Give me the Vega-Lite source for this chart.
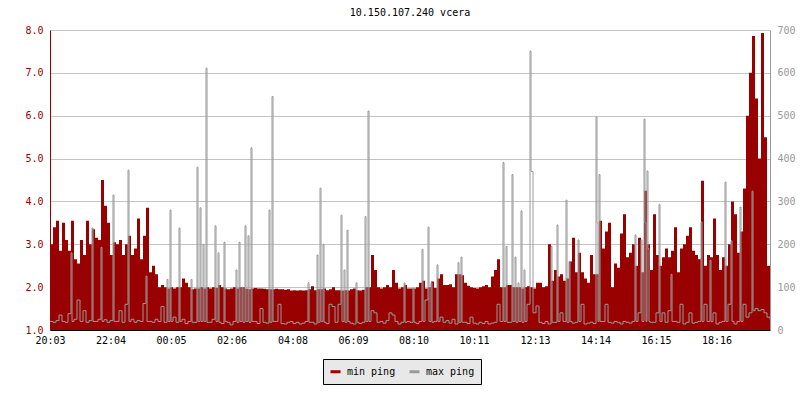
{
  "$schema": "https://vega.github.io/schema/vega-lite/v6.json",
  "width": 720,
  "height": 300,
  "autosize": {"type": "none"},
  "padding": {"left": 50, "top": 30, "right": 30, "bottom": 70},
  "background": "white",
  "title": {"text": "10.150.107.240 vcera", "font": "DejaVu Sans Mono", "fontSize": 10, "fontWeight": "normal", "color": "black", "anchor": "middle", "frame": "group", "offset": 7},
  "config": {"view": {"stroke": null}, "font": "DejaVu Sans Mono"},
  "datasets": {
    "minping": [
      {"t":0,"mn":3.0},{"t":6,"mn":3.4},{"t":12,"mn":3.55},{"t":18,"mn":2.85},{"t":24,"mn":3.5},
      {"t":30,"mn":3.1},{"t":36,"mn":2.85},{"t":42,"mn":3.55},{"t":48,"mn":2.65},{"t":54,"mn":2.55},
      {"t":60,"mn":3.1},{"t":66,"mn":2.75},{"t":72,"mn":3.55},{"t":78,"mn":3.0},{"t":84,"mn":3.35},
      {"t":90,"mn":3.15},{"t":96,"mn":3.1},{"t":102,"mn":4.5},{"t":108,"mn":3.9},{"t":114,"mn":3.5},
      {"t":120,"mn":2.75},{"t":126,"mn":3.05},{"t":132,"mn":3.0},{"t":138,"mn":3.1},{"t":144,"mn":2.75},
      {"t":150,"mn":3.0},{"t":156,"mn":3.2},{"t":162,"mn":2.75},{"t":168,"mn":2.9},{"t":174,"mn":3.6},
      {"t":180,"mn":2.65},{"t":186,"mn":3.2},{"t":192,"mn":3.85},{"t":198,"mn":2.35},{"t":204,"mn":2.5},
      {"t":210,"mn":2.3},{"t":216,"mn":2.0},{"t":222,"mn":2.05},{"t":228,"mn":2.0},{"t":234,"mn":1.97},
      {"t":240,"mn":2.0},{"t":246,"mn":1.97},{"t":252,"mn":2.0},{"t":258,"mn":2.0},{"t":264,"mn":2.2},
      {"t":270,"mn":2.1},{"t":276,"mn":2.0},{"t":282,"mn":1.95},{"t":288,"mn":1.97},{"t":294,"mn":1.97},
      {"t":300,"mn":2.0},{"t":306,"mn":1.97},{"t":312,"mn":2.0},{"t":318,"mn":1.97},{"t":324,"mn":2.0},
      {"t":330,"mn":1.98},{"t":336,"mn":2.05},{"t":342,"mn":2.0},{"t":348,"mn":1.97},{"t":354,"mn":1.95},
      {"t":360,"mn":1.97},{"t":366,"mn":2.0},{"t":372,"mn":1.97},{"t":378,"mn":2.0},{"t":384,"mn":2.0},
      {"t":390,"mn":1.96},{"t":396,"mn":1.95},{"t":402,"mn":1.97},{"t":408,"mn":1.98},{"t":414,"mn":1.97},
      {"t":420,"mn":1.97},{"t":426,"mn":1.96},{"t":432,"mn":1.95},{"t":438,"mn":1.95},{"t":444,"mn":1.95},
      {"t":450,"mn":1.96},{"t":456,"mn":1.95},{"t":462,"mn":1.95},{"t":468,"mn":1.94},{"t":474,"mn":1.95},
      {"t":480,"mn":1.92},{"t":486,"mn":1.93},{"t":492,"mn":1.92},{"t":498,"mn":1.93},{"t":504,"mn":1.92},
      {"t":510,"mn":1.93},{"t":516,"mn":1.95},{"t":522,"mn":2.02},{"t":528,"mn":1.93},{"t":534,"mn":1.95},
      {"t":540,"mn":1.95},{"t":546,"mn":1.97},{"t":552,"mn":1.93},{"t":558,"mn":1.95},{"t":564,"mn":2.0},
      {"t":570,"mn":1.93},{"t":576,"mn":1.93},{"t":582,"mn":1.92},{"t":588,"mn":1.93},{"t":594,"mn":1.92},
      {"t":600,"mn":1.95},{"t":606,"mn":1.97},{"t":612,"mn":1.93},{"t":618,"mn":1.92},{"t":624,"mn":1.94},
      {"t":630,"mn":2.0},{"t":636,"mn":2.0},{"t":642,"mn":2.75},{"t":648,"mn":2.4},{"t":654,"mn":2.0},
      {"t":660,"mn":1.97},{"t":666,"mn":2.0},{"t":672,"mn":2.05},{"t":678,"mn":2.0},{"t":684,"mn":2.4},
      {"t":690,"mn":2.1},{"t":696,"mn":1.97},{"t":702,"mn":2.0},{"t":708,"mn":2.05},{"t":714,"mn":1.97},
      {"t":720,"mn":1.97},{"t":726,"mn":1.97},{"t":732,"mn":2.0},{"t":738,"mn":2.1},{"t":744,"mn":2.15},
      {"t":750,"mn":1.97},{"t":756,"mn":2.0},{"t":762,"mn":2.13},{"t":768,"mn":1.98},{"t":774,"mn":2.2},
      {"t":780,"mn":2.3},{"t":786,"mn":2.05},{"t":792,"mn":2.05},{"t":798,"mn":2.07},{"t":804,"mn":2.0},
      {"t":810,"mn":2.3},{"t":816,"mn":2.3},{"t":822,"mn":2.28},{"t":828,"mn":2.1},{"t":834,"mn":2.03},
      {"t":840,"mn":2.0},{"t":846,"mn":1.98},{"t":852,"mn":1.97},{"t":858,"mn":2.0},{"t":864,"mn":2.02},
      {"t":870,"mn":2.05},{"t":876,"mn":2.0},{"t":882,"mn":2.25},{"t":888,"mn":2.4},{"t":894,"mn":2.65},
      {"t":900,"mn":2.0},{"t":906,"mn":2.0},{"t":912,"mn":2.05},{"t":918,"mn":2.05},{"t":924,"mn":2.0},
      {"t":930,"mn":2.0},{"t":936,"mn":2.0},{"t":942,"mn":1.97},{"t":948,"mn":2.0},{"t":954,"mn":2.02},
      {"t":960,"mn":2.0},{"t":966,"mn":1.97},{"t":972,"mn":2.1},{"t":978,"mn":2.1},{"t":984,"mn":2.0},
      {"t":990,"mn":2.02},{"t":996,"mn":3.0},{"t":1002,"mn":2.15},{"t":1008,"mn":2.4},{"t":1014,"mn":2.25},
      {"t":1020,"mn":2.3},{"t":1026,"mn":2.15},{"t":1032,"mn":2.2},{"t":1038,"mn":2.6},{"t":1044,"mn":3.15},
      {"t":1050,"mn":2.35},{"t":1056,"mn":2.8},{"t":1062,"mn":2.35},{"t":1068,"mn":2.2},{"t":1074,"mn":2.1},
      {"t":1080,"mn":2.75},{"t":1086,"mn":2.3},{"t":1092,"mn":2.3},{"t":1098,"mn":3.55},{"t":1104,"mn":2.9},
      {"t":1110,"mn":3.3},{"t":1116,"mn":3.5},{"t":1122,"mn":2.0},{"t":1128,"mn":2.55},{"t":1134,"mn":2.45},
      {"t":1140,"mn":3.25},{"t":1146,"mn":3.7},{"t":1152,"mn":2.7},{"t":1158,"mn":2.8},{"t":1164,"mn":3.0},
      {"t":1170,"mn":2.5},{"t":1176,"mn":3.15},{"t":1182,"mn":2.35},{"t":1188,"mn":4.25},{"t":1194,"mn":3.0},
      {"t":1200,"mn":2.4},{"t":1206,"mn":3.7},{"t":1212,"mn":2.75},{"t":1218,"mn":2.5},{"t":1224,"mn":2.7},
      {"t":1230,"mn":2.9},{"t":1236,"mn":2.7},{"t":1242,"mn":2.85},{"t":1248,"mn":3.4},{"t":1254,"mn":2.35},
      {"t":1260,"mn":2.9},{"t":1266,"mn":3.0},{"t":1272,"mn":3.2},{"t":1278,"mn":3.4},{"t":1284,"mn":2.85},
      {"t":1290,"mn":2.75},{"t":1296,"mn":2.65},{"t":1302,"mn":4.48},{"t":1308,"mn":2.5},{"t":1314,"mn":2.75},
      {"t":1320,"mn":2.7},{"t":1326,"mn":3.6},{"t":1332,"mn":2.75},{"t":1338,"mn":2.4},{"t":1344,"mn":2.7},
      {"t":1350,"mn":2.5},{"t":1356,"mn":3.0},{"t":1362,"mn":4.0},{"t":1368,"mn":3.7},{"t":1374,"mn":2.8},
      {"t":1380,"mn":3.3},{"t":1386,"mn":4.3},{"t":1392,"mn":6.0},{"t":1398,"mn":7.0},{"t":1404,"mn":7.86},
      {"t":1410,"mn":6.4},{"t":1416,"mn":5.0},{"t":1422,"mn":7.93},{"t":1428,"mn":5.5},{"t":1434,"mn":2.5},
      {"t":1440,"mn":2.9}
    ],
    "maxping": [
      {"t":0,"mx":20},{"t":6,"mx":18},{"t":12,"mx":22},{"t":18,"mx":35},{"t":24,"mx":20},{"t":30,"mx":18},{"t":36,"mx":38},
      {"t":42,"mx":180},{"t":44,"mx":20},{"t":48,"mx":25},{"t":54,"mx":70},{"t":60,"mx":20},{"t":66,"mx":45},{"t":72,"mx":18},
      {"t":78,"mx":22},{"t":84,"mx":238},{"t":86,"mx":20},{"t":90,"mx":20},{"t":96,"mx":25},{"t":102,"mx":193},{"t":104,"mx":20},
      {"t":108,"mx":24},{"t":114,"mx":18},{"t":120,"mx":22},{"t":126,"mx":315},{"t":128,"mx":20},{"t":132,"mx":20},{"t":138,"mx":45},
      {"t":144,"mx":18},{"t":150,"mx":60},{"t":156,"mx":373},{"t":158,"mx":20},{"t":162,"mx":25},{"t":168,"mx":18},{"t":174,"mx":22},
      {"t":180,"mx":20},{"t":186,"mx":62},{"t":192,"mx":126},{"t":194,"mx":20},{"t":198,"mx":20},{"t":204,"mx":18},{"t":210,"mx":25},
      {"t":216,"mx":20},{"t":222,"mx":55},{"t":228,"mx":18},{"t":234,"mx":118},{"t":236,"mx":20},
      {"t":240,"mx":280},{"t":242,"mx":20},{"t":246,"mx":30},{"t":252,"mx":18},{"t":258,"mx":238},{"t":260,"mx":20},{"t":264,"mx":25},
      {"t":270,"mx":15},{"t":276,"mx":20},{"t":282,"mx":118},{"t":284,"mx":18},{"t":288,"mx":18},{"t":294,"mx":380},{"t":296,"mx":20},
      {"t":300,"mx":285},{"t":302,"mx":20},{"t":306,"mx":200},{"t":308,"mx":20},{"t":312,"mx":611},{"t":314,"mx":18},{"t":318,"mx":18},
      {"t":324,"mx":25},{"t":330,"mx":243},{"t":332,"mx":20},{"t":336,"mx":180},{"t":338,"mx":18},{"t":342,"mx":15},{"t":348,"mx":205},
      {"t":350,"mx":20},{"t":354,"mx":18},{"t":360,"mx":12},{"t":366,"mx":20},{"t":372,"mx":140},{"t":374,"mx":18},{"t":378,"mx":205},
      {"t":380,"mx":20},{"t":384,"mx":100},{"t":386,"mx":18},{"t":390,"mx":243},{"t":392,"mx":20},{"t":396,"mx":220},{"t":398,"mx":18},
      {"t":402,"mx":425},{"t":404,"mx":20},{"t":408,"mx":20},{"t":414,"mx":15},{"t":420,"mx":50},{"t":426,"mx":18},{"t":432,"mx":16},
      {"t":438,"mx":280},{"t":440,"mx":18},{"t":444,"mx":545},{"t":446,"mx":20},{"t":450,"mx":20},{"t":456,"mx":60},{"t":462,"mx":15},
      {"t":468,"mx":14},{"t":474,"mx":18},
      {"t":480,"mx":20},{"t":486,"mx":15},{"t":492,"mx":18},{"t":498,"mx":14},{"t":504,"mx":16},{"t":510,"mx":20},{"t":516,"mx":110},
      {"t":518,"mx":18},{"t":522,"mx":18},{"t":528,"mx":14},{"t":534,"mx":175},{"t":536,"mx":18},{"t":540,"mx":331},{"t":542,"mx":20},
      {"t":546,"mx":200},{"t":548,"mx":18},{"t":552,"mx":15},{"t":558,"mx":60},{"t":564,"mx":55},{"t":570,"mx":18},{"t":576,"mx":60},
      {"t":582,"mx":268},{"t":584,"mx":20},{"t":588,"mx":140},{"t":590,"mx":18},{"t":594,"mx":233},{"t":596,"mx":20},{"t":600,"mx":16},
      {"t":606,"mx":14},{"t":612,"mx":110},{"t":614,"mx":18},{"t":618,"mx":15},{"t":624,"mx":18},{"t":630,"mx":265},{"t":632,"mx":20},
      {"t":636,"mx":511},{"t":638,"mx":20},{"t":642,"mx":45},{"t":648,"mx":40},{"t":654,"mx":18},{"t":660,"mx":20},{"t":666,"mx":16},
      {"t":672,"mx":22},{"t":678,"mx":40},{"t":684,"mx":35},{"t":690,"mx":20},{"t":696,"mx":14},{"t":702,"mx":18},{"t":708,"mx":110},
      {"t":710,"mx":18},{"t":714,"mx":20},
      {"t":720,"mx":18},{"t":726,"mx":98},{"t":728,"mx":18},{"t":732,"mx":15},{"t":738,"mx":20},{"t":744,"mx":188},{"t":746,"mx":20},
      {"t":750,"mx":70},{"t":756,"mx":240},{"t":758,"mx":20},{"t":762,"mx":110},{"t":764,"mx":18},{"t":768,"mx":20},{"t":774,"mx":152},
      {"t":776,"mx":20},{"t":780,"mx":30},{"t":786,"mx":18},{"t":792,"mx":22},{"t":798,"mx":16},{"t":804,"mx":25},{"t":810,"mx":14},
      {"t":816,"mx":157},{"t":818,"mx":18},{"t":822,"mx":170},{"t":824,"mx":18},{"t":828,"mx":18},{"t":834,"mx":15},{"t":840,"mx":30},
      {"t":846,"mx":16},{"t":852,"mx":14},{"t":858,"mx":18},{"t":864,"mx":15},{"t":870,"mx":20},{"t":876,"mx":14},{"t":882,"mx":16},
      {"t":888,"mx":18},{"t":894,"mx":60},{"t":900,"mx":20},{"t":906,"mx":391},{"t":908,"mx":20},{"t":912,"mx":195},{"t":914,"mx":18},
      {"t":918,"mx":18},{"t":924,"mx":363},{"t":926,"mx":20},{"t":930,"mx":170},{"t":932,"mx":18},{"t":936,"mx":110},{"t":938,"mx":20},
      {"t":942,"mx":278},{"t":944,"mx":18},{"t":948,"mx":140},{"t":950,"mx":20},{"t":954,"mx":60},
      {"t":960,"mx":651},{"t":962,"mx":370},{"t":964,"mx":370},{"t":966,"mx":40},{"t":972,"mx":56},{"t":978,"mx":18},{"t":984,"mx":15},
      {"t":990,"mx":20},{"t":996,"mx":14},{"t":1002,"mx":195},{"t":1004,"mx":18},{"t":1008,"mx":18},{"t":1014,"mx":245},{"t":1016,"mx":20},
      {"t":1020,"mx":40},{"t":1026,"mx":20},{"t":1032,"mx":303},{"t":1034,"mx":18},{"t":1038,"mx":160},{"t":1040,"mx":20},{"t":1044,"mx":16},
      {"t":1050,"mx":18},{"t":1056,"mx":210},{"t":1058,"mx":20},{"t":1062,"mx":60},{"t":1068,"mx":14},{"t":1074,"mx":16},{"t":1080,"mx":18},
      {"t":1086,"mx":15},{"t":1092,"mx":497},{"t":1094,"mx":250},{"t":1096,"mx":20},{"t":1098,"mx":363},{"t":1100,"mx":20},{"t":1104,"mx":20},
      {"t":1110,"mx":60},{"t":1116,"mx":18},{"t":1122,"mx":16},{"t":1128,"mx":20},{"t":1134,"mx":18},{"t":1140,"mx":14},{"t":1146,"mx":20},
      {"t":1152,"mx":18},{"t":1158,"mx":16},{"t":1164,"mx":20},{"t":1170,"mx":222},{"t":1172,"mx":20},{"t":1176,"mx":40},{"t":1182,"mx":210},
      {"t":1184,"mx":20},{"t":1188,"mx":492},{"t":1190,"mx":250},{"t":1192,"mx":20},{"t":1194,"mx":371},{"t":1196,"mx":190},{"t":1198,"mx":20},
      {"t":1200,"mx":18},{"t":1206,"mx":18},{"t":1212,"mx":40},{"t":1218,"mx":293},{"t":1220,"mx":20},{"t":1224,"mx":40},{"t":1230,"mx":18},
      {"t":1236,"mx":45},{"t":1242,"mx":130},{"t":1244,"mx":20},{"t":1248,"mx":20},{"t":1254,"mx":18},{"t":1260,"mx":60},{"t":1266,"mx":14},
      {"t":1272,"mx":18},{"t":1278,"mx":40},{"t":1284,"mx":16},{"t":1290,"mx":18},{"t":1296,"mx":20},{"t":1302,"mx":252},{"t":1304,"mx":20},
      {"t":1308,"mx":60},{"t":1314,"mx":20},{"t":1320,"mx":163},{"t":1322,"mx":20},{"t":1326,"mx":40},{"t":1332,"mx":14},{"t":1338,"mx":18},
      {"t":1344,"mx":20},{"t":1350,"mx":345},{"t":1352,"mx":20},{"t":1356,"mx":60},{"t":1362,"mx":208},{"t":1364,"mx":20},{"t":1368,"mx":14},
      {"t":1374,"mx":20},{"t":1380,"mx":287},{"t":1382,"mx":20},{"t":1386,"mx":60},{"t":1392,"mx":30},{"t":1398,"mx":40},{"t":1404,"mx":324},
      {"t":1406,"mx":45},{"t":1410,"mx":50},{"t":1416,"mx":45},{"t":1422,"mx":48},{"t":1428,"mx":40},{"t":1434,"mx":30},{"t":1440,"mx":25}
    ]
  },
  "encoding": {
    "x": {
      "field": "t", "type": "quantitative",
      "scale": {"domain": [0, 1440], "nice": false, "zero": false},
      "axis": {
        "title": null, "grid": false,
        "values": [0, 121, 242, 363, 485, 606, 727, 848, 970, 1091, 1212, 1333],
        "labelExpr": "timeFormat(datetime(2024, 0, 1, 20, 3 + datum.value), '%H:%M')",
        "labelFlush": false, "labelOverlap": false,
        "labelFont": "DejaVu Sans Mono", "labelFontSize": 10, "labelColor": "black",
        "labelPadding": 5, "tickSize": 0,
        "domainColor": "black", "tickColor": "black",
        "encode": {"ticks": {"update": {"y2": {"value": -5}}}}
      }
    }
  },
  "layer": [
    {
      "data": {"name": "minping"},
      "mark": {"type": "area", "interpolate": "step-after"},
      "encoding": {
        "y": {
          "field": "mn", "type": "quantitative",
          "scale": {"domain": [1, 8], "nice": false, "zero": false},
          "axis": {
            "title": null, "orient": "left",
            "values": [1, 1.5, 2, 2.5, 3, 3.5, 4, 4.5, 5, 5.5, 6, 6.5, 7, 7.5, 8],
            "labelExpr": "datum.value % 1 === 0 ? format(datum.value, '.1f') : ''",
            "labelOverlap": false, "labelFlush": false, "labelBound": false,
            "labelFont": "DejaVu Sans Mono", "labelFontSize": 10, "labelColor": "#990000",
            "labelPadding": 7, "tickSize": 0,
            "domainColor": "#990000", "tickColor": "#990000",
            "grid": true, "gridColor": "#c4c4c4", "gridWidth": 1,
            "gridOpacity": {"condition": {"test": "datum.value % 1 === 0", "value": 1}, "value": 0},
            "encode": {
              "ticks": {"update": {"x2": {"signal": "datum.value % 1 === 0 ? 5 : 3"}}}
            }
          }
        },
        "y2": {"datum": 1},
        "color": {
          "datum": "min ping",
          "scale": {"domain": ["min ping", "max ping"], "range": ["#990000", "#999999"]},
          "legend": {
            "title": null, "orient": "none", "legendX": 273, "legendY": 329,
            "direction": "horizontal",
            "fillColor": "#e8e8e8", "strokeColor": "black", "padding": 6,
            "symbolType": "stroke", "symbolSize": 100, "symbolStrokeWidth": 3,
            "labelFont": "DejaVu Sans Mono", "labelFontSize": 10, "labelColor": "black",
            "labelOffset": 5, "columnPadding": 7,
            "labelExpr": "datum.label === 'max ping' ? 'max ping  ' : datum.label",
            "encode": {"symbols": {"update": {"stroke": {"scale": "color", "field": "value"}, "fill": {"value": "transparent"}, "strokeWidth": {"value": 3}}}}
          }
        }
      }
    },
    {
      "data": {"name": "maxping"},
      "mark": {"type": "line", "interpolate": "step-after", "strokeWidth": 1},
      "encoding": {
        "y": {
          "field": "mx", "type": "quantitative",
          "scale": {"domain": [0, 700], "nice": false},
          "axis": {
            "title": null, "orient": "right", "grid": false,
            "values": [0, 50, 100, 150, 200, 250, 300, 350, 400, 450, 500, 550, 600, 650, 700],
            "labelExpr": "datum.value % 100 === 0 ? format(datum.value, 'd') : ''",
            "labelOverlap": false, "labelFlush": false, "labelBound": false,
            "labelFont": "DejaVu Sans Mono", "labelFontSize": 10, "labelColor": "#999999",
            "labelPadding": 7, "tickSize": 0,
            "domainColor": "#999999", "tickColor": "#999999",
            "encode": {"ticks": {"update": {"x2": {"signal": "datum.value % 100 === 0 ? -5 : -3"}}}}
          }
        },
        "color": {"datum": "max ping"}
      }
    }
  ],
  "resolve": {"scale": {"y": "independent"}}
}
